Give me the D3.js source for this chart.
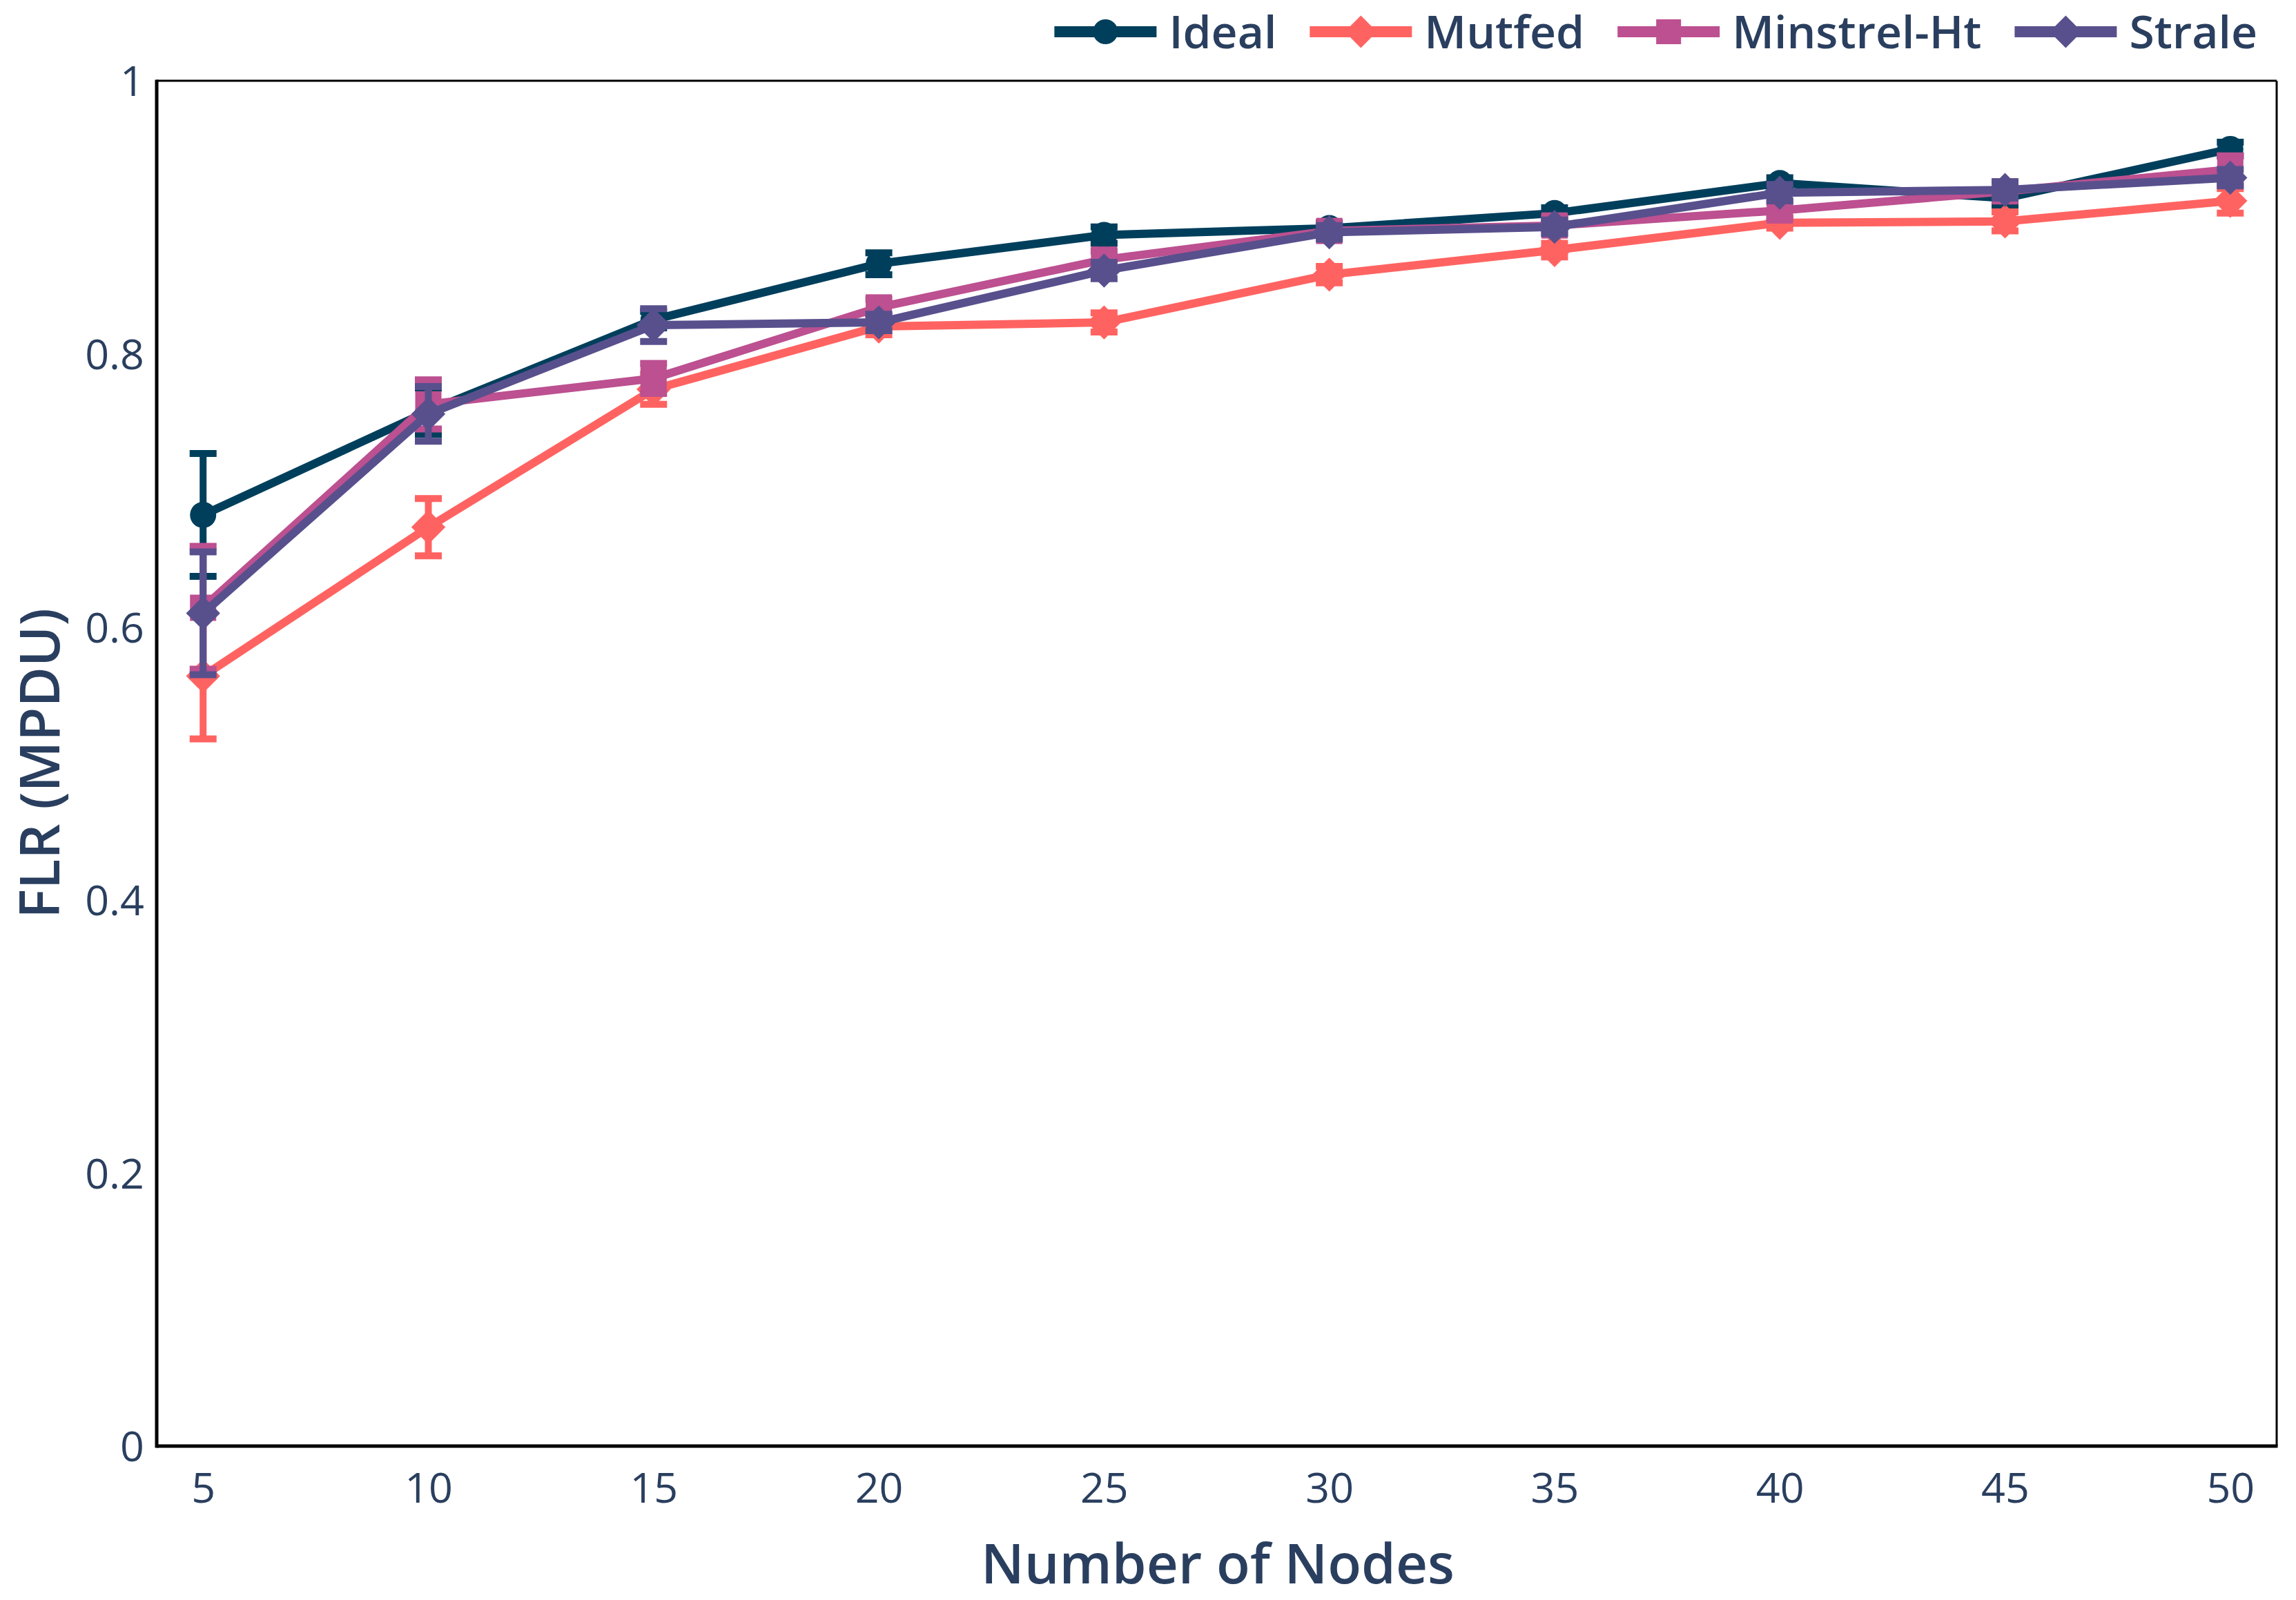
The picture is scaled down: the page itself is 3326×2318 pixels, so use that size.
<!DOCTYPE html>
<html>
<head>
<meta charset="utf-8">
<script src="https://cdn.jsdelivr.net/npm/d3@7"></script>
<style>
  html, body { margin: 0; padding: 0; background: #fff; }
  svg { display: block; }
  text { font-family: "Open Sans", "Noto Sans", sans-serif; fill: #2a3f5f; }
</style>
</head>
<body>
<svg id="chart" width="3326" height="2318"></svg>
<script>
const nodes = [5, 10, 15, 20, 25, 30, 35, 40, 45, 50];
const seriesNames = ["Ideal", "Mutfed", "Minstrel-Ht", "Strale"];
const idealVals   = [0.682, 0.758, 0.825, 0.866, 0.887, 0.892, 0.903, 0.925, 0.914, 0.950];
const idealErr    = [0.045, 0.017, 0.006, 0.008, 0.006, 0.004, 0.004, 0.004, 0.006, 0.005];
const mutfedVals  = [0.564, 0.673, 0.774, 0.820, 0.823, 0.858, 0.876, 0.896, 0.897, 0.912];
const mutfedErr   = [0.046, 0.021, 0.011, 0.006, 0.007, 0.006, 0.005, 0.004, 0.007, 0.009];
const minstrelVals = [0.614, 0.763, 0.782, 0.834, 0.869, 0.890, 0.894, 0.905, 0.919, 0.935];
const minstrelErr  = [0.045, 0.018, 0.011, 0.006, 0.006, 0.005, 0.006, 0.006, 0.006, 0.010];
const straleVals  = [0.610, 0.756, 0.821, 0.823, 0.861, 0.889, 0.893, 0.918, 0.920, 0.929];
const straleErr   = [0.045, 0.020, 0.012, 0.006, 0.006, 0.005, 0.005, 0.006, 0.006, 0.006];
const yTicks = [0, 0.2, 0.4, 0.6, 0.8, 1];
const yTickLabels = ["0", "0.2", "0.4", "0.6", "0.8", "1"];
const xTitle = "Number of Nodes";
const yTitle = "FLR (MPDU)";

const colors = ["#003f5c", "#ff6361", "#bc5090", "#58508d"];
const symbols = ["circle", "diamond", "square", "diamond"];
const allVals = [idealVals, mutfedVals, minstrelVals, straleVals];
const allErr = [idealErr, mutfedErr, minstrelErr, straleErr];

const L = 227, R = 3298, T = 117, B = 2095;
const svg = d3.select("#chart");
const x = d3.scaleLinear().domain([3.97, 51.03]).range([L, R]);
const y = d3.scaleLinear().domain([0, 1]).range([B, T]);

const xAxis = d3.axisBottom(x).tickValues(nodes).tickSize(0).tickPadding(0).tickFormat(d3.format("d"));
const gx = svg.append("g").attr("transform", `translate(0,${B})`).call(xAxis);
gx.select(".domain").remove();
gx.selectAll("text").attr("y", 82).attr("dy", 0).style("font-size", "61px").attr("fill", "#2a3f5f");

const yAxis = d3.axisLeft(y).tickValues(yTicks).tickSize(0).tickPadding(0)
  .tickFormat((d, i) => yTickLabels[i]);
const gy = svg.append("g").attr("transform", `translate(${L - 18},0)`).call(yAxis);
gy.select(".domain").remove();
gy.selectAll("text").attr("dy", "0.36em").style("font-size", "61px").attr("fill", "#2a3f5f");

svg.append("text").attr("x", 1764).attr("y", 2294).attr("text-anchor", "middle")
  .style("font-size", "80px").style("font-weight", 600).text(xTitle);
svg.append("text").attr("transform", "translate(86,1106) rotate(-90)").attr("text-anchor", "middle")
  .style("font-size", "80px").style("font-weight", 600).text(yTitle);

function drawMarker(g, sym, cx, cy, size, color) {
  const r = size / 2;
  if (sym === "circle") {
    g.append("circle").attr("cx", cx).attr("cy", cy).attr("r", r).attr("fill", color);
  } else if (sym === "square") {
    g.append("rect").attr("x", cx - r).attr("y", cy - r).attr("width", 2 * r).attr("height", 2 * r).attr("fill", color);
  } else if (sym === "diamond") {
    const d = r * 1.3;
    g.append("path").attr("d", `M${cx - d},${cy}L${cx},${cy - d}L${cx + d},${cy}L${cx},${cy + d}Z`).attr("fill", color);
  }
}

const plot = svg.append("g");
const line = d3.line().x((d, i) => x(nodes[i])).y(d => y(d));
allVals.forEach((vals, s) => {
  const g = plot.append("g");
  const col = colors[s];
  vals.forEach((v, i) => {
    const e = allErr[s][i];
    const cx = x(nodes[i]);
    g.append("line").attr("x1", cx).attr("x2", cx).attr("y1", y(v - e)).attr("y2", y(v + e))
      .attr("stroke", col).attr("stroke-width", 10);
    [v - e, v + e].forEach(w => {
      g.append("line").attr("x1", cx - 19.5).attr("x2", cx + 19.5).attr("y1", y(w)).attr("y2", y(w))
        .attr("stroke", col).attr("stroke-width", 10);
    });
  });
  g.append("path").datum(vals).attr("d", line).attr("fill", "none").attr("stroke", col)
    .attr("stroke-width", 12).attr("stroke-linejoin", "round");
  vals.forEach((v, i) => drawMarker(g, symbols[s], x(nodes[i]), y(v), 38, col));
});

svg.append("line").attr("x1", L).attr("x2", R).attr("y1", T).attr("y2", T).attr("stroke", "#000").attr("stroke-width", 3);
svg.append("line").attr("x1", R).attr("x2", R).attr("y1", T).attr("y2", B).attr("stroke", "#000").attr("stroke-width", 3);
svg.append("line").attr("x1", L).attr("x2", R + 1.5).attr("y1", B).attr("y2", B).attr("stroke", "#000").attr("stroke-width", 5);
svg.append("line").attr("x1", L).attr("x2", L).attr("y1", T - 1.5).attr("y2", B + 2.5).attr("stroke", "#000").attr("stroke-width", 5);

const leg = svg.append("g");
const legY = 46;
const symW = 148, textGap = 18, itemGap = 48;
let items = seriesNames.map((name, s) => {
  const gi = leg.append("g");
  const t = gi.append("text").attr("y", legY).attr("dy", "0.36em")
    .style("font-size", "66px").style("font-weight", 600).text(name);
  return { gi, t, s, w: t.node().getComputedTextLength() };
});
let xr = 3270;
for (let k = items.length - 1; k >= 0; k--) {
  const it = items[k];
  const textX = xr - it.w;
  it.t.attr("x", textX);
  const x0 = textX - textGap - symW;
  it.gi.insert("line", "text").attr("x1", x0).attr("x2", x0 + symW).attr("y1", legY).attr("y2", legY)
    .attr("stroke", colors[it.s]).attr("stroke-width", 16);
  const mg = it.gi.insert("g", "text");
  drawMarker(mg, symbols[it.s], x0 + symW / 2, legY, 36, colors[it.s]);
  xr = x0 - itemGap;
}
</script>
</body>
</html>
